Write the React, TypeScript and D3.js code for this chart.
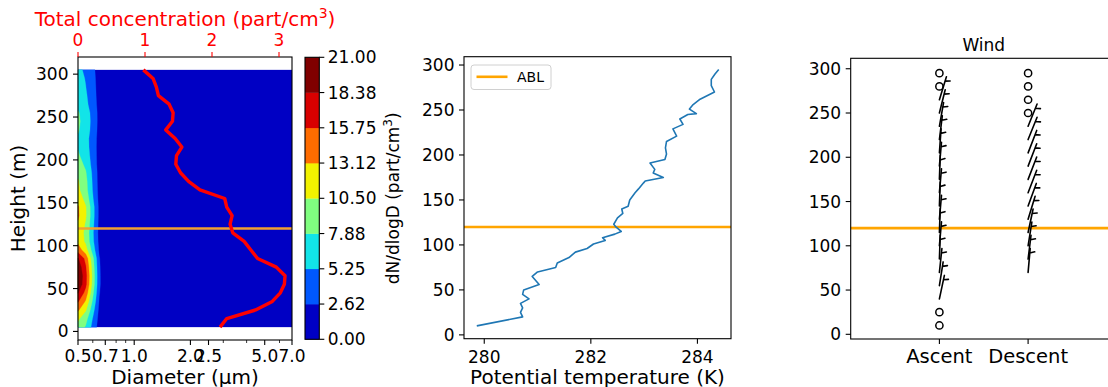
import React from "react";
import * as d3 from "d3";

// ---------- data ----------
const profileHeights = [5, 15, 25, 35, 45, 55, 65, 75, 85, 95, 105, 115, 125, 135, 145, 155, 165, 175, 185, 195, 205, 215, 225, 235, 245, 255, 265, 275, 285, 295, 305];
const totalConc = [2.12, 2.22, 2.65, 2.9, 3.02, 3.08, 3.09, 2.96, 2.68, 2.58, 2.48, 2.31, 2.27, 2.3, 2.22, 2.19, 1.82, 1.65, 1.53, 1.46, 1.47, 1.55, 1.45, 1.31, 1.41, 1.42, 1.36, 1.2, 1.17, 1.12, 0.975];

const diameters = [0.5, 0.55, 0.6, 0.65, 0.7, 1.0, 7.0];
// dN/dlogD rows, one per profile height (bottom to top), columns follow `diameters`
const dNdlogD = [
  [9.5, 7.6, 4.4, 1.4, 0.2, 0.05, 0],
  [11, 8.8, 5.1, 1.7, 0.2, 0.05, 0],
  [13.5, 10.8, 6.2, 2.0, 0.3, 0.05, 0],
  [16, 12.8, 7.4, 2.4, 0.3, 0.05, 0],
  [18.5, 14.8, 8.5, 2.8, 0.4, 0.05, 0],
  [20.5, 16.4, 9.4, 3.1, 0.4, 0.05, 0],
  [20.8, 16.6, 9.6, 3.1, 0.4, 0.05, 0],
  [20, 16, 9.2, 3.0, 0.4, 0.05, 0],
  [18.6, 14.9, 8.6, 2.8, 0.4, 0.05, 0],
  [14.5, 11.6, 6.7, 2.2, 0.3, 0.05, 0],
  [12.5, 10, 5.8, 1.9, 0.3, 0.05, 0],
  [12.2, 9.8, 5.6, 1.8, 0.2, 0.05, 0],
  [12.8, 10.2, 5.9, 1.9, 0.3, 0.05, 0],
  [13.5, 10.8, 6.2, 2.0, 0.3, 0.05, 0],
  [13.4, 10.7, 6.2, 2.0, 0.3, 0.05, 0],
  [12, 9.6, 5.5, 1.8, 0.2, 0.05, 0],
  [11, 8.8, 5.1, 1.7, 0.2, 0.05, 0],
  [10.7, 8.6, 4.9, 1.6, 0.2, 0.05, 0],
  [10, 8.1, 4.7, 1.6, 0.2, 0.05, 0],
  [9, 7.3, 4.3, 1.5, 0.2, 0.05, 0],
  [8.2, 6.7, 4.1, 1.5, 0.2, 0.05, 0],
  [7.7, 6.3, 4.0, 1.5, 0.2, 0.05, 0],
  [7.6, 6.2, 4.0, 1.6, 0.2, 0.05, 0],
  [8.1, 6.6, 4.3, 1.7, 0.3, 0.05, 0],
  [8.3, 6.8, 4.4, 1.8, 0.3, 0.05, 0],
  [8.1, 6.6, 4.3, 1.8, 0.3, 0.05, 0],
  [7.2, 5.9, 3.9, 1.7, 0.3, 0.05, 0],
  [6.8, 5.6, 3.7, 1.6, 0.3, 0.05, 0],
  [6.5, 5.3, 3.5, 1.6, 0.3, 0.05, 0],
  [6.2, 5.1, 3.4, 1.5, 0.3, 0.05, 0],
  [5.8, 4.8, 3.2, 1.4, 0.2, 0.05, 0],
];

const levels = [0, 2.625, 5.25, 7.875, 10.5, 13.125, 15.75, 18.375, 21];
const levelLabels = ["0.00", "2.62", "5.25", "7.88", "10.50", "13.12", "15.75", "18.38", "21.00"];
const bandColors = ["#0000c4", "#0058ff", "#12e4e8", "#80ff80", "#f2f200", "#ff6c00", "#d80000", "#800000"];

const diameterTicks = [0.5, 0.7, 1, 2, 2.5, 5, 7];
const diameterTickLabels = ["0.5", "0.7", "1.0", "2.0", "2.5", "5.0", "7.0"];
const diameterMinorTicks = [0.6, 0.8, 0.9, 3, 4, 6];
const concTicks = [0, 1, 2, 3];
const heightTicks = [0, 50, 100, 150, 200, 250, 300];

const thetaHeights = [10, 20, 25, 30, 35, 40, 45, 50, 56, 65, 70, 75, 80, 86, 92, 96, 101, 105, 108, 112, 115, 120, 123, 130, 135, 140, 143, 150, 158, 162, 169, 171, 175, 180, 184, 191, 195, 201, 208, 215, 221, 229, 234, 240, 245, 246, 251, 256, 262, 270, 277, 284, 290, 295];
const theta = [279.86, 280.72, 280.68, 280.72, 280.68, 280.84, 280.72, 280.74, 281.03, 280.9, 281.0, 281.34, 281.37, 281.59, 281.71, 281.93, 282.05, 282.27, 282.22, 282.45, 282.57, 282.47, 282.43, 282.5, 282.6, 282.58, 282.7, 282.73, 282.83, 282.89, 282.99, 283.02, 283.36, 283.17, 283.2, 283.11, 283.39, 283.42, 283.4, 283.42, 283.61, 283.54, 283.73, 283.67, 283.82, 283.98, 283.85, 283.92, 284.05, 284.32, 284.26, 284.26, 284.33, 284.4];
const thetaTicks = [280, 282, 284];

const ablHeight = 120;

const windCategories = ["Ascent", "Descent"];
const ascentHeights = [10, 25, 40, 55, 70, 85, 100, 115, 130, 145, 160, 175, 190, 205, 220, 235, 250, 265, 280, 295];
const ascentSpeed = [0, 0, 5, 5, 5, 5, 5, 5, 5, 5, 5, 5, 5, 5, 5, 5, 5, 5, 0, 0];
const ascentDir = [0, 0, 12, 9, 6, 2, 5, 2, 5, 2, 5, 2, 5, 4, 7, 10, 14, 17, 0, 0];
const descentHeights = [70, 85, 100, 115, 130, 145, 160, 175, 190, 205, 220, 235, 250, 265, 280, 295];
const descentSpeed = [5, 5, 5, 5, 5, 5, 5, 5, 5, 5, 5, 5, 0, 0, 0, 0];
const descentDir = [5, 7, 9, 12, 17, 20, 21, 21, 21, 21, 22, 22, 0, 0, 0, 0];

// ---------- layout ----------
const W = 1108;
const H = 387;
const FONT = "DejaVu Sans";
const TICK = 17;
const LABEL = 20;

const L = { x0: 78, x1: 292, y0: 57, y1: 340 };
const CB = { x0: 305, x1: 319.3, y0: 57.3, y1: 339.3 };
const M = { x0: 464, x1: 731, y0: 56.7, y1: 338.7 };
const R = { x0: 850.7, x1: 1116.8, y0: 58.3, y1: 339 };

const xDiam = d3.scaleLog().domain([0.5, 7]).range([L.x0, L.x1]);
const xConc = d3.scaleLinear().domain([0, 3.194]).range([L.x0, L.x1]);
const yLeft = d3.scaleLinear().domain([-10, 320]).range([L.y1, L.y0]);
const yCbar = d3.scaleLinear().domain([0, 21]).range([CB.y1, CB.y0]);
const xTheta = d3.scaleLinear().domain([279.62, 284.63]).range([M.x0, M.x1]);
const yMid = d3.scaleLinear().domain([-4.25, 309.25]).range([M.y1, M.y0]);
const xWind = d3.scaleLinear().domain([-1, 2]).range([R.x0, R.x1]);
const yWind = d3.scaleLinear().domain([-5.3, 311.8]).range([R.y1, R.y0]);

// contour polygons of the size distribution, mapped from grid cells to pixels
const nx = diameters.length;
const ny = profileHeights.length;
const flat: number[] = [];
dNdlogD.forEach((row) => row.forEach((v) => flat.push(v)));
const interp = (arr: number[], c: number) => {
  const f = Math.max(0, Math.min(arr.length - 1, c - 0.5));
  const i = Math.min(arr.length - 2, Math.floor(f));
  const t = f - i;
  return arr[i] + t * (arr[i + 1] - arr[i]);
};
const gridProjection = d3.geoTransform({
  point(x: number, y: number) {
    (this as any).stream.point(xDiam(interp(diameters, x)), yLeft(interp(profileHeights, y)));
  },
});
const gridPath = d3.geoPath(gridProjection);
const bands = d3.contours().size([nx, ny]).thresholds(levels.slice(1, -1))(flat);

// wind barb glyph: staff, then flags / barbs / half barb near the far end
function Barb({ x, y, speed, dir, len }: { x: number; y: number; speed: number; dir: number; len: number }) {
  const s = Math.round(speed / 5) * 5;
  if (s < 5) {
    return <circle cx={x} cy={y} r={0.15 * len} fill="none" stroke="#000" strokeWidth={1.5} />;
  }
  const a = (dir * Math.PI) / 180;
  const u = [Math.sin(a), -Math.cos(a)];
  const p = [Math.cos(a), Math.sin(a)];
  const pt = (along: number, side: number) => [x + u[0] * along + p[0] * side, y + u[1] * along + p[1] * side];
  const nFlags = Math.floor(s / 50);
  const nBarbs = Math.floor((s % 50) / 10);
  const half = s % 10 >= 5;
  const spacing = 0.125 * len;
  const fh = 0.4 * len;
  const fw = 0.25 * len;
  let off = len;
  const segs: string[] = [];
  const tip = pt(len, 0);
  segs.push(`M${x},${y}L${tip[0]},${tip[1]}`);
  for (let i = 0; i < nFlags; i++) {
    const a1 = pt(off, 0), a2 = pt(off - fw / 2, fh), a3 = pt(off - fw, 0);
    segs.push(`M${a1[0]},${a1[1]}L${a2[0]},${a2[1]}L${a3[0]},${a3[1]}Z`);
    off -= fw + spacing;
  }
  for (let i = 0; i < nBarbs; i++) {
    const a1 = pt(off, 0), a2 = pt(off + fw / 2, fh);
    segs.push(`M${a1[0]},${a1[1]}L${a2[0]},${a2[1]}`);
    off -= spacing;
  }
  if (half) {
    if (off === len) off -= 1.5 * spacing;
    const a1 = pt(off, 0), a2 = pt(off + fw / 4, fh / 2);
    segs.push(`M${a1[0]},${a1[1]}L${a2[0]},${a2[1]}`);
  }
  return <path d={segs.join("")} fill="#000" stroke="#000" strokeWidth={1.6} strokeLinecap="round" />;
}

function YAxis({ scale, x, ticks }: { scale: any; x: number; ticks: number[] }) {
  return (
    <g>
      {ticks.map((t) => (
        <g key={t}>
          <line x1={x - 5} x2={x} y1={scale(t)} y2={scale(t)} stroke="#000" strokeWidth={1.1} />
          <text x={x - 9.5} y={scale(t) + 6} textAnchor="end" fontSize={TICK} fontFamily={FONT} fill="#000">{t}</text>
        </g>
      ))}
    </g>
  );
}

export default function App() {
  const concLine = d3.line<number>().x((d) => xConc(d)).y((_, i) => yLeft(profileHeights[i]));
  const thetaLine = d3.line<number>().x((d) => xTheta(d)).y((_, i) => yMid(thetaHeights[i]));
  const barbLen = 24;

  return (
    <svg width={W} height={H} style={{ display: "block", background: "#fff" }} fontFamily={FONT}>
      <style>{"body{margin:0}"}</style>

      {/* ---------- left: size distribution + total concentration ---------- */}
      <rect x={xDiam(0.5)} y={yLeft(305)} width={xDiam(7) - xDiam(0.5)} height={yLeft(5) - yLeft(305)} fill={bandColors[0]} />
      {bands.map((b, i) => (
        <path key={i} d={gridPath(b as any) || ""} fill={bandColors[i + 1]} stroke={bandColors[i + 1]} strokeWidth={0.3} />
      ))}
      <line x1={L.x0} x2={L.x1} y1={yLeft(ablHeight)} y2={yLeft(ablHeight)} stroke="#f0a030" strokeWidth={2.6} />
      <path d={concLine(totalConc) || ""} fill="none" stroke="#ff0000" strokeWidth={3.4} strokeLinejoin="round" />
      <rect x={L.x0} y={L.y0} width={L.x1 - L.x0} height={L.y1 - L.y0} fill="none" stroke="#000" strokeWidth={1.1} />

      <YAxis scale={yLeft} x={L.x0} ticks={heightTicks} />
      {diameterTicks.map((t, i) => (
        <g key={t}>
          <line x1={xDiam(t)} x2={xDiam(t)} y1={L.y1} y2={L.y1 + 5} stroke="#000" strokeWidth={1.1} />
          <text x={xDiam(t)} y={361.5} textAnchor="middle" fontSize={TICK} fill="#000">{diameterTickLabels[i]}</text>
        </g>
      ))}
      {diameterMinorTicks.map((t) => (
        <line key={t} x1={xDiam(t)} x2={xDiam(t)} y1={L.y1} y2={L.y1 + 3} stroke="#000" strokeWidth={0.8} />
      ))}
      {concTicks.map((t) => (
        <g key={t}>
          <line x1={xConc(t)} x2={xConc(t)} y1={L.y0} y2={L.y0 - 5} stroke="#ff0000" strokeWidth={1.1} />
          <text x={xConc(t)} y={46} textAnchor="middle" fontSize={TICK} fill="#ff0000">{t}</text>
        </g>
      ))}
      <text x={(L.x0 + L.x1) / 2} y={25.5} textAnchor="middle" fontSize={LABEL} fill="#ff0000">
        Total concentration (part/cm<tspan dy={-8} fontSize={14}>3</tspan><tspan dy={8}>)</tspan>
      </text>
      <text x={(L.x0 + L.x1) / 2} y={383.5} textAnchor="middle" fontSize={LABEL} fill="#000">Diameter (μm)</text>
      <text transform={`translate(25,${(L.y0 + L.y1) / 2}) rotate(-90)`} textAnchor="middle" fontSize={LABEL} fill="#000">Height (m)</text>

      {/* colorbar */}
      {bandColors.map((c, i) => (
        <rect key={i} x={CB.x0} y={yCbar(levels[i + 1])} width={CB.x1 - CB.x0} height={yCbar(levels[i]) - yCbar(levels[i + 1]) + 0.3} fill={c} />
      ))}
      <rect x={CB.x0} y={CB.y0} width={CB.x1 - CB.x0} height={CB.y1 - CB.y0} fill="none" stroke="#000" strokeWidth={1.1} />
      {levels.map((lv, i) => (
        <g key={lv}>
          <line x1={CB.x1} x2={CB.x1 + 5} y1={yCbar(lv)} y2={yCbar(lv)} stroke="#000" strokeWidth={1.1} />
          <text x={CB.x1 + 8.5} y={yCbar(lv) + 6} fontSize={TICK} fill="#000">{levelLabels[i]}</text>
        </g>
      ))}
      <text transform={`translate(399,${(CB.y0 + CB.y1) / 2}) rotate(-90)`} textAnchor="middle" fontSize={TICK} fill="#000">
        dN/dlogD (part/cm<tspan dy={-7} fontSize={12}>3</tspan><tspan dy={7}>)</tspan>
      </text>

      {/* ---------- middle: potential temperature ---------- */}
      <line x1={M.x0} x2={M.x1} y1={yMid(ablHeight)} y2={yMid(ablHeight)} stroke="#ffa500" strokeWidth={2.6} />
      <path d={thetaLine(theta) || ""} fill="none" stroke="#1f77b4" strokeWidth={1.6} strokeLinejoin="round" />
      <rect x={M.x0} y={M.y0} width={M.x1 - M.x0} height={M.y1 - M.y0} fill="none" stroke="#000" strokeWidth={1.1} />
      <YAxis scale={yMid} x={M.x0} ticks={heightTicks} />
      {thetaTicks.map((t) => (
        <g key={t}>
          <line x1={xTheta(t)} x2={xTheta(t)} y1={M.y1} y2={M.y1 + 5} stroke="#000" strokeWidth={1.1} />
          <text x={xTheta(t)} y={362.5} textAnchor="middle" fontSize={TICK} fill="#000">{t}</text>
        </g>
      ))}
      <text x={(M.x0 + M.x1) / 2} y={383.5} textAnchor="middle" fontSize={LABEL} fill="#000">Potential temperature (K)</text>
      <g>
        <rect x={471} y={65} width={80} height={24.5} rx={3} fill="#fff" fillOpacity={0.8} stroke="#d0d0d0" strokeWidth={1} />
        <line x1={476.5} x2={507.5} y1={76.8} y2={76.8} stroke="#ffa500" strokeWidth={2.6} />
        <text x={517} y={81.5} fontSize={14} fill="#000">ABL</text>
      </g>

      {/* ---------- right: wind barbs ---------- */}
      <line x1={R.x0} x2={R.x1} y1={yWind(ablHeight)} y2={yWind(ablHeight)} stroke="#ffa500" strokeWidth={2.6} />
      {ascentHeights.map((h, i) => (
        <Barb key={`a${h}`} x={xWind(0)} y={yWind(h)} speed={ascentSpeed[i]} dir={ascentDir[i]} len={barbLen} />
      ))}
      {descentHeights.map((h, i) => (
        <Barb key={`d${h}`} x={xWind(1)} y={yWind(h)} speed={descentSpeed[i]} dir={descentDir[i]} len={barbLen} />
      ))}
      <rect x={R.x0} y={R.y0} width={R.x1 - R.x0} height={R.y1 - R.y0} fill="none" stroke="#000" strokeWidth={1.1} />
      <YAxis scale={yWind} x={R.x0} ticks={heightTicks} />
      {windCategories.map((c, i) => (
        <g key={c}>
          <line x1={xWind(i)} x2={xWind(i)} y1={R.y1} y2={R.y1 + 5} stroke="#000" strokeWidth={1.1} />
          <text x={xWind(i)} y={363} textAnchor="middle" fontSize={19.5} fill="#000">{c}</text>
        </g>
      ))}
      <text x={(R.x0 + R.x1) / 2} y={50.5} textAnchor="middle" fontSize={TICK} fill="#000">Wind</text>
    </svg>
  );
}
